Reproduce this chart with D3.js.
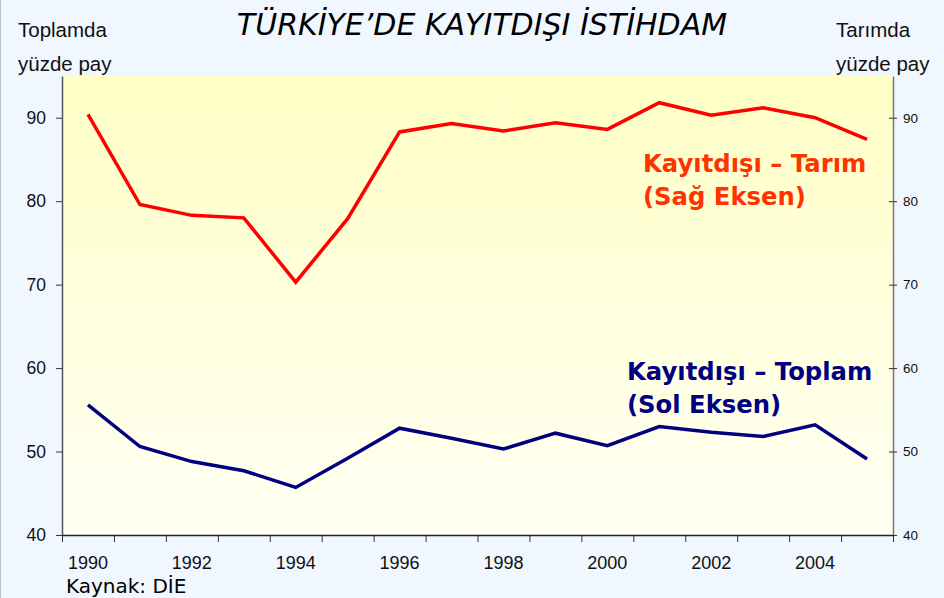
<!DOCTYPE html>
<html>
<head>
<meta charset="utf-8">
<script src="https://cdn.jsdelivr.net/npm/d3@7/dist/d3.min.js"></script>
<style>
  body { margin: 0; background: #f0f7ff; }
  svg { display: block; }
</style>
</head>
<body>
<svg id="chart" width="944" height="598"></svg>
<script>
// data
const years = d3.range(1990, 2006)
const tarim = [90.4, 79.6, 78.3, 78.0, 70.3, 77.9, 88.3, 89.3, 88.4, 89.4, 88.6, 91.8, 90.3, 91.2, 90.0, 87.4]
const toplam = [55.6, 50.6, 48.8, 47.7, 45.7, 49.2, 52.8, 51.6, 50.3, 52.2, 50.7, 53.0, 52.3, 51.8, 53.2, 49.1]
const yTicks = [40, 50, 60, 70, 80, 90]
const yearLabels = [1990, 1992, 1994, 1996, 1998, 2000, 2002, 2004]

const svg = d3.select("#chart")
const margin = { left: 62, right: 51, top: 76, bottom: 63 }
const W = 944, H = 598

const x = d3.scaleBand()
  .domain(years)
  .range([margin.left, W - margin.right])
const yLeft = d3.scaleLinear().domain([40, 95]).range([H - margin.bottom, margin.top])
const yRight = d3.scaleLinear().domain([40, 95]).range([H - margin.bottom, margin.top])

// panel
svg.append("rect").attr("x", 0).attr("y", 0).attr("width", W).attr("height", H).attr("fill", "#f0f7ff")
svg.append("line").attr("x1", 0.5).attr("x2", 0.5).attr("y1", 0).attr("y2", H).attr("stroke", "#b8c0cc")

const grad = svg.append("defs").append("linearGradient")
  .attr("id", "bg").attr("x1", 0).attr("x2", 0).attr("y1", 0).attr("y2", 1)
grad.append("stop").attr("offset", "0%").attr("stop-color", "#ffffc6")
grad.append("stop").attr("offset", "100%").attr("stop-color", "#fffff4")

svg.append("rect")
  .attr("x", margin.left).attr("y", margin.top)
  .attr("width", W - margin.left - margin.right)
  .attr("height", H - margin.top - margin.bottom)
  .attr("fill", "url(#bg)")

// left axis
const gl = svg.append("g")
  .attr("transform", `translate(${margin.left},0)`)
  .call(d3.axisLeft(yLeft).tickValues(yTicks).tickSize(6).tickPadding(10).tickSizeOuter(0))
gl.select(".domain").attr("stroke", "#555").attr("stroke-width", 1.5)
gl.selectAll(".tick line").attr("stroke", "#333")
gl.selectAll("text").attr("font-family", "Liberation Sans, Arial, sans-serif").attr("font-size", 17.5).attr("fill", "#111")

// right axis
const gr = svg.append("g")
  .attr("transform", `translate(${W - margin.right},0)`)
  .call(d3.axisRight(yRight).tickValues(yTicks).tickSize(4).tickPadding(6).tickSizeOuter(0))
gr.select(".domain").attr("stroke", "#777").attr("stroke-width", 1.5)
gr.selectAll(".tick line").attr("x1", -4).attr("stroke", "#333")
gr.selectAll("text").attr("font-family", "Liberation Sans, Arial, sans-serif").attr("font-size", 13.5).attr("fill", "#111")

// bottom axis: tick marks on band edges, labels every two years
const xEdges = d3.scaleLinear().domain([0, years.length]).range(x.range())
const gb = svg.append("g")
  .attr("transform", `translate(0,${H - margin.bottom})`)
  .call(d3.axisBottom(xEdges).tickValues(d3.range(0, years.length + 1)).tickSize(7).tickFormat("").tickSizeOuter(0))
gb.select(".domain").attr("stroke", "#222").attr("stroke-width", 1.5)
gb.selectAll(".tick line").attr("stroke", "#333")

svg.append("g").selectAll("text")
  .data(yearLabels)
  .join("text")
  .attr("x", d => x(d) + x.bandwidth() / 2)
  .attr("y", H - margin.bottom + 34)
  .attr("text-anchor", "middle")
  .attr("font-family", "Liberation Sans, Arial, sans-serif")
  .attr("font-size", 18)
  .attr("fill", "#111")
  .text(d => d)

// lines
const cx = d => x(d) + x.bandwidth() / 2
const lineR = d3.line().x((d, i) => cx(years[i])).y(d => yRight(d))
const lineL = d3.line().x((d, i) => cx(years[i])).y(d => yLeft(d))

svg.append("path").datum(tarim)
  .attr("d", lineR).attr("fill", "none")
  .attr("stroke", "#ff0000").attr("stroke-width", 3.5)
svg.append("path").datum(toplam)
  .attr("d", lineL).attr("fill", "none")
  .attr("stroke", "#000080").attr("stroke-width", 3.5)

// annotations
const ann = [
  { t: "Kayıtdışı – Tarım", x: 643, y: 172, c: "#ff3300" },
  { t: "(Sağ Eksen)", x: 643, y: 205, c: "#ff3300" },
  { t: "Kayıtdışı – Toplam", x: 627, y: 380, c: "#000080" },
  { t: "(Sol Eksen)", x: 627, y: 413, c: "#000080" }
]
svg.append("g").selectAll("text")
  .data(ann)
  .join("text")
  .attr("x", d => d.x).attr("y", d => d.y)
  .attr("font-family", "DejaVu Sans, Verdana, sans-serif")
  .attr("font-weight", "bold")
  .attr("font-size", 24.3)
  .attr("fill", d => d.c)
  .text(d => d.t)

// title and axis titles
svg.append("text")
  .attr("x", 482).attr("y", 35)
  .attr("text-anchor", "middle")
  .attr("font-family", "DejaVu Sans, Verdana, sans-serif")
  .attr("font-style", "italic")
  .attr("font-size", 30)
  .attr("fill", "#000")
  .text("TÜRKİYE’DE KAYITDIŞI İSTİHDAM")

const side = [
  { t: "Toplamda", x: 18, y: 37 },
  { t: "yüzde pay", x: 18, y: 71 },
  { t: "Tarımda", x: 836, y: 37 },
  { t: "yüzde pay", x: 836, y: 71 }
]
svg.append("g").selectAll("text")
  .data(side)
  .join("text")
  .attr("x", d => d.x).attr("y", d => d.y)
  .attr("font-family", "Liberation Sans, Arial, sans-serif")
  .attr("font-size", 20.5)
  .attr("fill", "#111")
  .text(d => d.t)

svg.append("text")
  .attr("x", 66).attr("y", 593)
  .attr("font-family", "DejaVu Sans, Verdana, sans-serif")
  .attr("font-size", 20)
  .attr("fill", "#000")
  .text("Kaynak: DİE")
</script>
</body>
</html>
